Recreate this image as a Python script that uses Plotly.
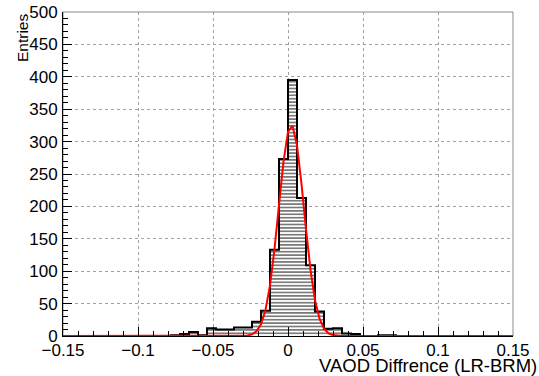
import numpy as np
import plotly.graph_objects as go

# ---- data ----
bin_lo = -0.15
bin_hi = 0.15
bin_width = 0.006
counts = [0, 0, 0, 0, 0, 0, 0, 0, 0, 0,
          0, 0, 1, 3, 6, 1, 12, 10, 10, 13,
          13, 22, 39, 133, 273, 395, 213, 109, 38, 11,
          12, 4, 3, 0, 0, 1, 1, 0, 0, 0,
          0, 0, 0, 0, 0, 0, 0, 0, 0, 0]
fit_const = 326.0
fit_mean = 0.0022
fit_sigma = 0.0084
fit_npx = 101

x_tickvals = [-0.15, -0.1, -0.05, 0, 0.05, 0.1, 0.15]
x_ticktext = ["\u22120.15", "\u22120.1", "\u22120.05", "0", "0.05", "0.1", "0.15"]
y_tickvals = [0, 50, 100, 150, 200, 250, 300, 350, 400, 450, 500]
y_ticktext = [str(v) for v in y_tickvals]
x_title = "VAOD Diffrence (LR-BRM)"
y_title = "Entries"

# ---- derived ----
edges = np.linspace(bin_lo, bin_hi, len(counts) + 1)
centers = (edges[:-1] + edges[1:]) / 2
step_y = list(counts) + [counts[-1]]
fx = np.linspace(bin_lo, bin_hi, fit_npx)
fy = fit_const * np.exp(-0.5 * ((fx - fit_mean) / fit_sigma) ** 2)

W, H = 539, 376
L, R, T, B = 63, 26, 12, 40
pw, ph = W - L - R, H - T - B

def px_x(p):
    return (p - L) / pw

def px_y(p):
    return (H - B - p) / ph

FONT = "Liberation Sans, Arial, Helvetica, sans-serif"

fig = go.Figure()
fig.add_trace(go.Bar(
    x=centers, y=counts, width=bin_width,
    marker=dict(color="white", line=dict(width=0),
                pattern=dict(shape="-", fgcolor="#222222", bgcolor="white",
                             size=3.4, solidity=0.3)),
    hoverinfo="skip", showlegend=False))
fig.add_trace(go.Scatter(
    x=edges, y=step_y, mode="lines", line=dict(shape="hv", color="black", width=2),
    hoverinfo="skip", showlegend=False))
fig.add_trace(go.Scatter(
    x=fx, y=fy, mode="lines", line=dict(color="#ff0000", width=2),
    hoverinfo="skip", showlegend=False))

axis_common = dict(
    showline=True, linecolor="black", linewidth=1, mirror=False,
    ticks="inside", ticklen=9, tickwidth=1, tickcolor="black",
    showgrid=True, gridcolor="#a0a0a0", griddash="dot", gridwidth=1,
    zeroline=False, automargin=False,
    tickfont=dict(family=FONT, size=17, color="black"),
)

fig.update_xaxes(range=[bin_lo, bin_hi], tickvals=x_tickvals, ticktext=x_ticktext,
                 minor=dict(ticks="inside", ticklen=5, dtick=0.01, tick0=0,
                            tickcolor="black", showgrid=False),
                 ticklabelstandoff=-1,
                 **axis_common)
fig.update_yaxes(range=[0, 500], tickvals=y_tickvals, ticktext=y_ticktext,
                 minor=dict(ticks="inside", ticklen=5, dtick=10, tick0=0,
                            tickcolor="black", showgrid=False),
                 ticklabelstandoff=1,
                 **axis_common)

fig.add_shape(type="rect", xref="paper", yref="paper", x0=0, x1=1, y0=0, y1=1,
              line=dict(color="#8a8a8a", width=1), layer="below")

fig.add_annotation(text=x_title, xref="paper", yref="paper",
                   x=px_x(538), y=px_y(365.5), xanchor="right", yanchor="middle",
                   showarrow=False, borderpad=0,
                   font=dict(family=FONT, size=18.5, color="black"))
fig.add_annotation(text=y_title, xref="paper", yref="paper", textangle=-90,
                   x=px_x(22), y=px_y(13), xanchor="center", yanchor="top",
                   showarrow=False, borderpad=0,
                   font=dict(family=FONT, size=15.5, color="black"))

fig.update_layout(
    template="none",
    width=W, height=H, margin=dict(l=L, r=R, t=T, b=B, pad=0),
    paper_bgcolor="white", plot_bgcolor="white",
    bargap=0, showlegend=False,
)

fig.write_html(
    "out.html",
    config={"displayModeBar": False, "staticPlot": True},
    post_script="document.body.style.margin='0';document.body.style.padding='0';"
                "document.documentElement.style.overflow='hidden';",
)
